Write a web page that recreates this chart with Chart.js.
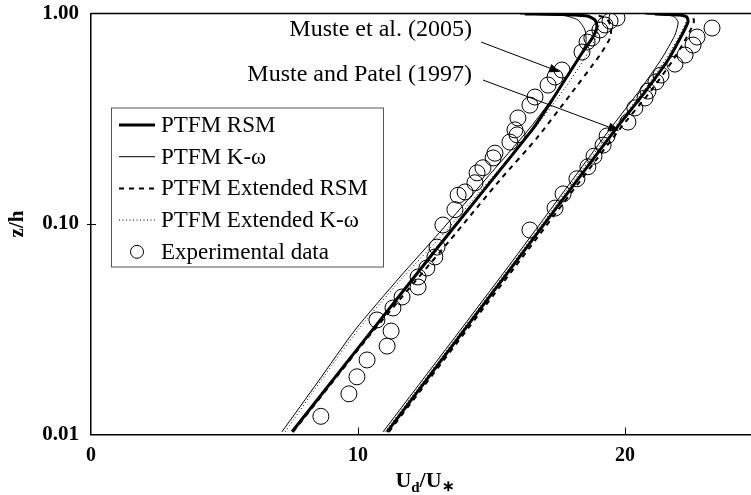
<!DOCTYPE html>
<html>
<head>
<meta charset="utf-8">
<script src="https://cdn.jsdelivr.net/npm/chart.js@4/dist/chart.umd.min.js"></script>
<style>
    html, body { margin: 0; padding: 0; background: #fff; }
    canvas { display: block; }
</style>
</head>
<body>
<canvas id="chart" width="751" height="495"></canvas>
<script>
// axis ticks
const xTicks = [0, 10, 20];
const yTicks = [0.01, 0.1, 1];

const legendLabels = ['PTFM RSM', 'PTFM K-\u03c9', 'PTFM Extended RSM', 'PTFM Extended K-\u03c9', 'Experimental data'];

// Muste et al. (2005) -- [U_d/U*, z/h]
const rsm2005 = [[7.53, 0.0103], [12.70, 0.0697], [16.52, 0.280], [17.27, 0.388], [18.39, 0.649],
    [18.80, 0.773], [18.95, 0.863], [18.88, 0.931], [18.58, 0.973], [17.57, 0.989], [16.25, 0.995]];
const kw2005 = [[7.15, 0.0103], [8.50, 0.0178], [9.89, 0.0314], [11.57, 0.0560], [13.07, 0.0916],
    [14.76, 0.162], [16.44, 0.286], [17.57, 0.443], [18.24, 0.601], [18.54, 0.732], [18.50, 0.835],
    [18.24, 0.931], [17.64, 0.984], [16.07, 0.995]];
const extRsm2005 = [[7.57, 0.0103], [10.45, 0.0297], [13.45, 0.0839], [15.32, 0.162], [16.70, 0.256],
    [17.94, 0.410], [19.06, 0.635], [19.44, 0.765], [19.48, 0.863], [19.29, 0.952], [18.88, 0.984]];
const extKw2005 = [[7.27, 0.0103], [8.58, 0.0178], [10.00, 0.0314], [11.69, 0.0560], [13.26, 0.0916],
    [14.94, 0.162], [16.63, 0.286], [17.75, 0.443], [18.50, 0.615], [18.95, 0.790], [19.06, 0.931]];
const exp2005 = [[8.61, 0.0122], [9.66, 0.0156], [9.96, 0.0188], [10.34, 0.0226], [11.09, 0.0263],
    [11.24, 0.0310], [10.71, 0.0350], [11.31, 0.0399], [11.65, 0.0450], [12.25, 0.0502], [12.25, 0.0560],
    [12.58, 0.0618], [12.88, 0.0697], [12.96, 0.0777], [13.18, 0.0989], [13.63, 0.117], [13.75, 0.137],
    [14.01, 0.142], [14.38, 0.157], [14.46, 0.175], [14.68, 0.185], [15.06, 0.206], [15.13, 0.217],
    [15.69, 0.245], [15.96, 0.265], [15.88, 0.280], [15.99, 0.319], [16.44, 0.367], [16.63, 0.401],
    [17.12, 0.457], [17.38, 0.499], [17.64, 0.539], [18.39, 0.656], [18.58, 0.732], [18.76, 0.765],
    [19.06, 0.835], [19.25, 0.882], [19.44, 0.921], [19.70, 0.952]];

// Muste and Patel (1997)
const rsm1997 = [[11.09, 0.0103], [15.77, 0.0625], [19.63, 0.280], [20.75, 0.424], [21.61, 0.601],
    [22.13, 0.790], [22.36, 0.911], [22.32, 0.962], [22.06, 0.984], [21.12, 0.995]];
const kw1997 = [[10.94, 0.0103], [15.62, 0.0625], [19.36, 0.274], [20.56, 0.433], [21.39, 0.615],
    [21.87, 0.790], [21.99, 0.911], [21.80, 0.973], [20.75, 0.995]];
const extRsm1997 = [[11.16, 0.0103], [15.88, 0.0625], [19.78, 0.280], [20.94, 0.424], [21.80, 0.601],
    [22.36, 0.790], [22.58, 0.911], [22.55, 0.973]];
const extKw1997 = [[11.01, 0.0103], [15.69, 0.0625], [19.51, 0.280], [20.67, 0.424], [21.50, 0.601],
    [22.06, 0.790], [22.28, 0.911]];
const exp1997 = [[16.44, 0.0936], [17.38, 0.119], [17.68, 0.139], [18.20, 0.164], [18.61, 0.187],
    [18.84, 0.210], [19.18, 0.237], [19.33, 0.262], [20.11, 0.305], [20.37, 0.356], [20.75, 0.397],
    [20.86, 0.428], [21.16, 0.473], [21.35, 0.510], [21.87, 0.575], [22.25, 0.635], [22.55, 0.708],
    [22.70, 0.773], [23.26, 0.853]];

const SERIF = '"Liberation Serif", "Times New Roman", serif';

const toPoints = (pairs) => pairs.map(([u, z]) => ({ x: u, y: z }));

// line styles: RSM, K-w, Extended RSM, Extended K-w
const lineStyles = [
    { borderWidth: 3, borderDash: [] },
    { borderWidth: 1, borderDash: [] },
    { borderWidth: 2, borderDash: [5, 5] },
    { borderWidth: 1, borderDash: [1, 2.5] },
];

function lineDataset(pairs, styleIndex) {
    return {
        data: toPoints(pairs),
        showLine: true,
        borderColor: '#000',
        borderWidth: lineStyles[styleIndex].borderWidth,
        borderDash: lineStyles[styleIndex].borderDash,
        pointRadius: 0,
        tension: 0.2,
        fill: false,
    };
}

function circleDataset(pairs) {
    return {
        data: toPoints(pairs),
        showLine: false,
        pointRadius: 8,
        pointHoverRadius: 8,
        pointBorderWidth: 1,
        pointBorderColor: '#000',
        pointBackgroundColor: 'rgba(0,0,0,0)',
    };
}

// text notes with arrows, placed in data units
const notes = [
    { text: 'Muste et al. (2005)', at: [14.27, 0.835], from: [14.61, 0.732], to: [17.57, 0.527] },
    { text: 'Muste and Patel (1997)', at: [14.27, 0.510], from: [14.68, 0.483], to: [19.78, 0.277] },
];

function arrow(ctx, x1, y1, x2, y2) {
    const ang = Math.atan2(y2 - y1, x2 - x1);
    const len = 11, half = 4.5;
    ctx.beginPath();
    ctx.moveTo(x1, y1);
    ctx.lineTo(x2 - Math.cos(ang) * len * 0.8, y2 - Math.sin(ang) * len * 0.8);
    ctx.stroke();
    ctx.beginPath();
    ctx.moveTo(x2, y2);
    ctx.lineTo(x2 - Math.cos(ang) * len + Math.sin(ang) * half, y2 - Math.sin(ang) * len - Math.cos(ang) * half);
    ctx.lineTo(x2 - Math.cos(ang) * len - Math.sin(ang) * half, y2 - Math.sin(ang) * len + Math.cos(ang) * half);
    ctx.closePath();
    ctx.fill();
}

// keep the plot frame where the reference has it
function noScalePadding(scale) {
    scale.paddingLeft = 0;
    scale.paddingRight = 0;
    scale.paddingTop = 0;
    scale.paddingBottom = 0;
}

const decorations = {
    id: 'decorations',
    afterDraw(chart) {
        const { ctx, chartArea: area } = chart;
        const x = chart.scales.x;
        const y = chart.scales.y;

        ctx.save();
        ctx.strokeStyle = '#000';
        ctx.fillStyle = '#000';

        // top edge of the frame
        ctx.lineWidth = 1.5;
        ctx.beginPath();
        ctx.moveTo(area.left, area.top);
        ctx.lineTo(area.right, area.top);
        ctx.stroke();

        // x ticks point into the plot, one short tick at 0.10
        ctx.lineWidth = 1;
        ctx.beginPath();
        xTicks.forEach((v) => {
            if (v === 0) {
                return;
            }
            const px = Math.round(x.getPixelForValue(v)) + 0.5;
            ctx.moveTo(px, area.bottom);
            ctx.lineTo(px, area.bottom - 7);
        });
        const tickY = Math.round(y.getPixelForValue(0.1)) + 0.5;
        ctx.moveTo(area.left - 4, tickY);
        ctx.lineTo(area.left + 5, tickY);
        ctx.stroke();

        // notes
        ctx.font = `24px ${SERIF}`;
        ctx.textAlign = 'right';
        ctx.textBaseline = 'middle';
        notes.forEach((n) => {
            ctx.fillText(n.text, x.getPixelForValue(n.at[0]), y.getPixelForValue(n.at[1]));
            arrow(ctx,
                x.getPixelForValue(n.from[0]), y.getPixelForValue(n.from[1]),
                x.getPixelForValue(n.to[0]), y.getPixelForValue(n.to[1]));
        });

        // legend box
        const lx = area.left + 20;
        const ly = area.top + 94.5;
        ctx.font = `23px ${SERIF}`;
        ctx.strokeStyle = '#555';
        ctx.lineWidth = 1;
        ctx.strokeRect(lx + 0.5, ly, 272, 159);
        ctx.strokeStyle = '#000';
        ctx.textAlign = 'left';
        legendLabels.forEach((label, i) => {
            const rowY = ly + 17 + i * 31.7;
            if (i < 4) {
                ctx.lineWidth = lineStyles[i].borderWidth;
                ctx.setLineDash(lineStyles[i].borderDash);
                ctx.beginPath();
                ctx.moveTo(lx + 8, rowY);
                ctx.lineTo(lx + 44, rowY);
                ctx.stroke();
                ctx.setLineDash([]);
            } else {
                ctx.lineWidth = 1;
                ctx.beginPath();
                ctx.arc(lx + 26, rowY, 6.5, 0, Math.PI * 2);
                ctx.stroke();
            }
            ctx.fillText(label, lx + 50, rowY + 1);
        });

        // x axis title U_d/U_*
        const big = `bold 22px ${SERIF}`;
        const small = `bold 15px ${SERIF}`;
        const parts = [['U', big, 0], ['d', small, 5], ['/U', big, 0], ['\u2217', small, 4]];
        let total = 0;
        parts.forEach(([t, f]) => { ctx.font = f; total += ctx.measureText(t).width; });
        let tx = (area.left + area.right) / 2 + 4 - total / 2;
        const baseY = 487;
        ctx.textBaseline = 'alphabetic';
        parts.forEach(([t, f, dy]) => {
            ctx.font = f;
            ctx.fillText(t, tx, baseY + dy);
            tx += ctx.measureText(t).width;
        });

        ctx.restore();
    },
};

new Chart(document.getElementById('chart'), {
    type: 'scatter',
    data: {
        datasets: [
            lineDataset(rsm2005, 0),
            lineDataset(kw2005, 1),
            lineDataset(extRsm2005, 2),
            lineDataset(extKw2005, 3),
            lineDataset(rsm1997, 0),
            lineDataset(kw1997, 1),
            lineDataset(extRsm1997, 2),
            lineDataset(extKw1997, 3),
            circleDataset(exp2005),
            circleDataset(exp1997),
        ],
    },
    options: {
        responsive: false,
        animation: false,
        layout: { autoPadding: false, padding: { top: 13.5, left: 0, right: 0, bottom: 0 } },
        plugins: {
            legend: { display: false },
            tooltip: { enabled: false },
        },
        scales: {
            x: {
                type: 'linear',
                min: 0,
                max: 24.72,
                grid: { display: false, drawTicks: false },
                border: { display: true, color: '#000', width: 1.5 },
                afterBuildTicks: (scale) => { scale.ticks = xTicks.map((v) => ({ value: v })); },
                afterFit: (scale) => { scale.height = 60.5; noScalePadding(scale); },
                ticks: {
                    autoSkip: false,
                    maxRotation: 0,
                    padding: 9,
                    color: '#000',
                    font: { family: SERIF, size: 20, weight: 'bold' },
                },
            },
            y: {
                type: 'logarithmic',
                min: 0.01,
                max: 1,
                grid: { display: false, drawTicks: false },
                border: { display: true, color: '#000', width: 1.5 },
                afterBuildTicks: (scale) => { scale.ticks = yTicks.map((v) => ({ value: v })); },
                afterFit: (scale) => { scale.width = 91; noScalePadding(scale); },
                ticks: {
                    autoSkip: false,
                    padding: 12,
                    color: '#000',
                    font: { family: SERIF, size: 21, weight: 'bold' },
                    callback: (value) => Number(value).toFixed(2),
                },
                title: {
                    display: true,
                    text: 'z/h',
                    color: '#000',
                    padding: { top: 5, bottom: 0 },
                    font: { family: SERIF, size: 21, weight: 'bold' },
                },
            },
        },
    },
    plugins: [decorations],
});
</script>
</body>
</html>
